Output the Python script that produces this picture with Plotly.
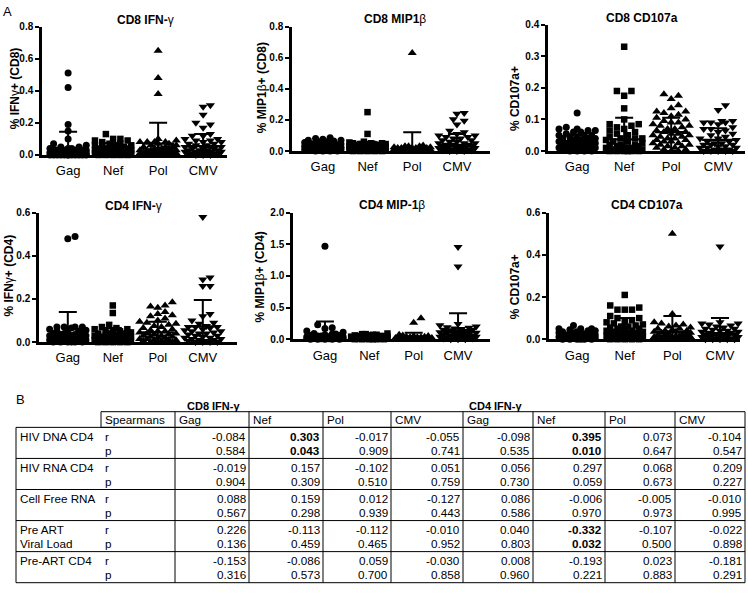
import numpy as np
import plotly.graph_objects as go

FONT = "Liberation Sans, Arial, Helvetica, sans-serif"
W, H = 748, 598

categories = ["Gag", "Nef", "Pol", "CMV"]

# ---------------- Panel A data ----------------
cd8_ifng_gag = [0.51, 0.42, 0.19, 0.15, 0.10, 0.07, 0.06, 0.05, 0.05, 0.04, 0.04, 0.04, 0.03, 0.03, 0.03,
                0.03, 0.02, 0.02, 0.02, 0.02, 0.02, 0.02, 0.015, 0.01, 0.01, 0.01, 0.01, 0.01, 0.01, 0.005,
                0.005, 0.005, 0.005, 0.0, 0.0, 0.0, 0.0, 0.0, 0.0, 0.0, 0.0, 0.0, 0.0, 0.0, 0.0]
cd8_ifng_nef = [0.13, 0.10, 0.10, 0.09, 0.09, 0.08, 0.07, 0.07, 0.06, 0.06, 0.05, 0.05, 0.05, 0.05, 0.04,
                0.04, 0.04, 0.04, 0.04, 0.03, 0.03, 0.03, 0.03, 0.03, 0.03, 0.02, 0.02, 0.02, 0.02, 0.02,
                0.02, 0.02, 0.01, 0.01, 0.01, 0.01, 0.01, 0.01, 0.005, 0.005, 0.0, 0.0, 0.0, 0.0, 0.0]
cd8_ifng_pol = [0.65, 0.48, 0.38, 0.10, 0.09, 0.08, 0.08, 0.08, 0.08, 0.07, 0.07, 0.06, 0.06, 0.05, 0.05,
                0.05, 0.04, 0.04, 0.04, 0.04, 0.03, 0.03, 0.03, 0.03, 0.03, 0.02, 0.02, 0.02, 0.02, 0.02,
                0.02, 0.01, 0.01, 0.01, 0.01, 0.01, 0.01, 0.005, 0.005, 0.005, 0.0, 0.0, 0.0, 0.0, 0.0]
cd8_ifng_cmv = [0.31, 0.30, 0.25, 0.20, 0.19, 0.17, 0.13, 0.12, 0.12, 0.10, 0.10, 0.09, 0.09, 0.08, 0.08,
                0.07, 0.07, 0.06, 0.06, 0.05, 0.05, 0.05, 0.04, 0.04, 0.04, 0.03, 0.03, 0.03, 0.03, 0.02,
                0.02, 0.02, 0.02, 0.02, 0.01, 0.01, 0.01, 0.01, 0.005, 0.005, 0.0, 0.0, 0.0]
cd8_ifng_mean = [0.045, 0.045, 0.07, 0.055]
cd8_ifng_upper = [0.145, 0.075, 0.20, 0.13]

cd8_mip_gag = [0.085, 0.08, 0.075, 0.07, 0.07, 0.065, 0.06, 0.06, 0.055, 0.05, 0.05, 0.05, 0.045, 0.045,
               0.04, 0.04, 0.04, 0.035, 0.035, 0.03, 0.03, 0.03, 0.03, 0.025, 0.025, 0.025, 0.02, 0.02,
               0.02, 0.02, 0.015, 0.015, 0.015, 0.01, 0.01, 0.01, 0.01, 0.005, 0.005, 0.005, 0.0, 0.0, 0.0, 0.0]
cd8_mip_nef = [0.25, 0.11, 0.06, 0.055, 0.05, 0.05, 0.05, 0.045, 0.045, 0.04, 0.04, 0.04, 0.035, 0.035,
               0.03, 0.03, 0.03, 0.03, 0.025, 0.025, 0.02, 0.02, 0.02, 0.02, 0.02, 0.015, 0.015, 0.015,
               0.01, 0.01, 0.01, 0.01, 0.01, 0.005, 0.005, 0.005, 0.005, 0.0, 0.0, 0.0, 0.0, 0.0]
cd8_mip_pol = [0.63, 0.035, 0.03, 0.03, 0.03, 0.025, 0.025, 0.02, 0.02, 0.02, 0.02, 0.02, 0.015, 0.015,
               0.015, 0.015, 0.01, 0.01, 0.01, 0.01, 0.01, 0.01, 0.01, 0.005, 0.005, 0.005, 0.005, 0.005,
               0.005, 0.0, 0.0, 0.0, 0.0, 0.0, 0.0, 0.0, 0.0, 0.0, 0.0, 0.0]
cd8_mip_cmv = [0.245, 0.24, 0.205, 0.195, 0.17, 0.13, 0.12, 0.11, 0.10, 0.10, 0.09, 0.09, 0.08, 0.08,
               0.07, 0.07, 0.06, 0.06, 0.05, 0.05, 0.05, 0.04, 0.04, 0.04, 0.03, 0.03, 0.03, 0.03, 0.02,
               0.02, 0.02, 0.02, 0.015, 0.01, 0.01, 0.01, 0.005, 0.005, 0.0, 0.0, 0.0]
cd8_mip_mean = [0.03, 0.03, 0.015, 0.04]
cd8_mip_upper = [0.05, 0.06, 0.12, 0.11]

cd8_cd107_gag = [0.12, 0.075, 0.07, 0.07, 0.065, 0.065, 0.06, 0.06, 0.055, 0.05, 0.05, 0.05, 0.045, 0.045,
                 0.04, 0.04, 0.04, 0.035, 0.035, 0.03, 0.03, 0.03, 0.03, 0.025, 0.025, 0.025, 0.02, 0.02,
                 0.02, 0.02, 0.015, 0.015, 0.015, 0.01, 0.01, 0.01, 0.01, 0.005, 0.005, 0.005, 0.005,
                 0.0, 0.0, 0.0, 0.0]
cd8_cd107_nef = [0.33, 0.19, 0.19, 0.175, 0.135, 0.10, 0.085, 0.085, 0.08, 0.075, 0.07, 0.065, 0.06, 0.055,
                 0.05, 0.045, 0.04, 0.04, 0.04, 0.035, 0.03, 0.03, 0.025, 0.02, 0.02, 0.02, 0.015, 0.015,
                 0.01, 0.01, 0.01, 0.01, 0.005, 0.005, 0.005, 0.005, 0.0, 0.0, 0.0, 0.0, 0.0, 0.0]
cd8_cd107_pol = [0.18, 0.175, 0.165, 0.145, 0.135, 0.125, 0.125, 0.12, 0.115, 0.11, 0.105, 0.10, 0.095,
                 0.09, 0.09, 0.085, 0.08, 0.08, 0.075, 0.07, 0.07, 0.065, 0.06, 0.06, 0.055, 0.055, 0.05,
                 0.05, 0.045, 0.045, 0.04, 0.04, 0.035, 0.035, 0.03, 0.03, 0.025, 0.025, 0.02, 0.02, 0.015,
                 0.015, 0.01, 0.01, 0.005, 0.005, 0.0, 0.0]
cd8_cd107_cmv = [0.145, 0.13, 0.095, 0.095, 0.09, 0.09, 0.09, 0.085, 0.075, 0.07, 0.07, 0.065, 0.06, 0.055,
                 0.05, 0.045, 0.04, 0.04, 0.035, 0.03, 0.03, 0.025, 0.025, 0.02, 0.02, 0.02, 0.015, 0.015,
                 0.01, 0.01, 0.01, 0.005, 0.005, 0.005, 0.0, 0.0, 0.0, 0.0, 0.0]
cd8_cd107_mean = [0.025, 0.037, 0.06, 0.035]
cd8_cd107_upper = [0.05, 0.105, 0.105, 0.072]

cd4_ifng_gag = [0.49, 0.48, 0.07, 0.07, 0.07, 0.07, 0.065, 0.06, 0.055, 0.05, 0.05, 0.045, 0.04, 0.04,
                0.04, 0.035, 0.035, 0.03, 0.03, 0.03, 0.025, 0.025, 0.02, 0.02, 0.02, 0.02, 0.015, 0.015,
                0.01, 0.01, 0.01, 0.01, 0.005, 0.005, 0.005, 0.0, 0.0, 0.0, 0.0, 0.0, 0.0]
cd4_ifng_nef = [0.17, 0.135, 0.08, 0.07, 0.065, 0.06, 0.06, 0.055, 0.05, 0.05, 0.045, 0.04, 0.04, 0.04,
                0.035, 0.035, 0.03, 0.03, 0.03, 0.025, 0.025, 0.025, 0.02, 0.02, 0.02, 0.02, 0.015, 0.015,
                0.015, 0.01, 0.01, 0.01, 0.01, 0.005, 0.005, 0.005, 0.0, 0.0, 0.0, 0.0, 0.0]
cd4_ifng_pol = [0.185, 0.17, 0.165, 0.16, 0.14, 0.13, 0.125, 0.12, 0.11, 0.10, 0.095, 0.09, 0.085, 0.08,
                0.075, 0.07, 0.065, 0.06, 0.055, 0.05, 0.05, 0.045, 0.04, 0.04, 0.035, 0.035, 0.03, 0.03,
                0.025, 0.025, 0.02, 0.02, 0.015, 0.015, 0.01, 0.01, 0.01, 0.005, 0.005, 0.0, 0.0, 0.0, 0.0]
cd4_ifng_cmv = [0.58, 0.30, 0.29, 0.26, 0.26, 0.13, 0.12, 0.10, 0.09, 0.085, 0.075, 0.07, 0.07, 0.07,
                0.065, 0.06, 0.055, 0.05, 0.05, 0.045, 0.04, 0.04, 0.035, 0.03, 0.03, 0.025, 0.02, 0.02,
                0.015, 0.015, 0.01, 0.01, 0.005, 0.005, 0.0, 0.0, 0.0, 0.0]
cd4_ifng_mean = [0.04, 0.027, 0.045, 0.073]
cd4_ifng_upper = [0.14, 0.065, 0.095, 0.195]

cd4_mip_gag = [1.47, 0.23, 0.18, 0.17, 0.13, 0.11, 0.09, 0.08, 0.08, 0.07, 0.06, 0.06, 0.05, 0.05, 0.04,
               0.04, 0.04, 0.03, 0.03, 0.03, 0.03, 0.02, 0.02, 0.02, 0.02, 0.02, 0.01, 0.01, 0.01, 0.01,
               0.01, 0.01, 0.005, 0.005, 0.0, 0.0, 0.0, 0.0, 0.0]
cd4_mip_nef = [0.09, 0.08, 0.08, 0.07, 0.07, 0.06, 0.06, 0.05, 0.05, 0.05, 0.04, 0.04, 0.04, 0.03, 0.03,
               0.03, 0.03, 0.02, 0.02, 0.02, 0.02, 0.02, 0.01, 0.01, 0.01, 0.01, 0.01, 0.01, 0.005, 0.005,
               0.005, 0.0, 0.0, 0.0, 0.0, 0.0, 0.0]
cd4_mip_pol = [0.33, 0.26, 0.07, 0.06, 0.05, 0.05, 0.04, 0.04, 0.03, 0.03, 0.03, 0.02, 0.02, 0.02, 0.02,
               0.02, 0.01, 0.01, 0.01, 0.01, 0.01, 0.01, 0.005, 0.005, 0.005, 0.005, 0.0, 0.0, 0.0, 0.0,
               0.0, 0.0, 0.0, 0.0]
cd4_mip_cmv = [1.46, 1.15, 0.24, 0.22, 0.20, 0.19, 0.18, 0.17, 0.16, 0.15, 0.15, 0.14, 0.13, 0.12, 0.11,
               0.10, 0.10, 0.09, 0.08, 0.08, 0.07, 0.06, 0.06, 0.05, 0.05, 0.04, 0.04, 0.03, 0.03, 0.02,
               0.02, 0.01, 0.01, 0.0, 0.0, 0.0]
cd4_mip_mean = [0.05, 0.03, 0.04, 0.13]
cd4_mip_upper = [0.28, 0.06, 0.10, 0.41]

cd4_cd107_gag = [0.065, 0.05, 0.05, 0.05, 0.045, 0.04, 0.04, 0.035, 0.035, 0.03, 0.03, 0.03, 0.025, 0.025,
                 0.025, 0.02, 0.02, 0.02, 0.02, 0.015, 0.015, 0.015, 0.01, 0.01, 0.01, 0.01, 0.01, 0.005,
                 0.005, 0.005, 0.005, 0.0, 0.0, 0.0, 0.0, 0.0, 0.0]
cd4_cd107_nef = [0.21, 0.16, 0.15, 0.14, 0.14, 0.14, 0.11, 0.10, 0.10, 0.09, 0.085, 0.08, 0.075, 0.07,
                 0.065, 0.06, 0.06, 0.055, 0.05, 0.05, 0.045, 0.04, 0.04, 0.035, 0.035, 0.03, 0.03, 0.025,
                 0.025, 0.02, 0.02, 0.02, 0.015, 0.015, 0.01, 0.01, 0.01, 0.005, 0.005, 0.0, 0.0, 0.0, 0.0, 0.0]
cd4_cd107_pol = [0.50, 0.12, 0.08, 0.075, 0.07, 0.065, 0.06, 0.055, 0.05, 0.05, 0.045, 0.04, 0.04, 0.035,
                 0.035, 0.03, 0.03, 0.025, 0.025, 0.02, 0.02, 0.02, 0.015, 0.015, 0.01, 0.01, 0.01, 0.005,
                 0.005, 0.005, 0.0, 0.0, 0.0, 0.0, 0.0, 0.0]
cd4_cd107_cmv = [0.44, 0.08, 0.075, 0.075, 0.07, 0.065, 0.06, 0.055, 0.05, 0.05, 0.045, 0.04, 0.04, 0.035,
                 0.035, 0.03, 0.03, 0.025, 0.025, 0.02, 0.02, 0.02, 0.015, 0.015, 0.01, 0.01, 0.01, 0.005,
                 0.005, 0.005, 0.0, 0.0, 0.0, 0.0, 0.0]
cd4_cd107_mean = [0.018, 0.04, 0.035, 0.028]
cd4_cd107_upper = [0.035, 0.10, 0.11, 0.10]

panel_titles = ["<b>CD8 IFN-</b>γ", "<b>CD8 MIP1</b>β", "<b>CD8 CD107a</b>",
                "<b>CD4 IFN-</b>γ", "<b>CD4 MIP-1</b>β", "<b>CD4 CD107a</b>"]
y_titles = ["<b>% IFN</b>γ<b>+ (CD8)</b>", "<b>% MIP1</b>β<b>+ (CD8)</b>", "<b>% CD107a+</b>",
            "<b>% IFN</b>γ<b>+ (CD4)</b>", "<b>% MIP1</b>β<b>+ (CD4)</b>", "<b>% CD107a+</b>"]

# ---------------- Panel B data ----------------
table_groups = ["CD8 IFN-γ", "CD4 IFN-γ"]
table_cols = ["Gag", "Nef", "Pol", "CMV", "Gag", "Nef", "Pol", "CMV"]
row_labels = [["HIV DNA CD4", ""], ["HIV RNA CD4", ""], ["Cell Free RNA", ""],
              ["Pre ART", "Viral Load"], ["Pre-ART CD4", ""]]
r_values = [
    [-0.084, 0.303, -0.017, -0.055, -0.098, 0.395, 0.073, -0.104],
    [-0.019, 0.157, -0.102, 0.051, 0.056, 0.297, 0.068, 0.209],
    [0.088, 0.159, 0.012, -0.127, 0.086, -0.006, -0.005, -0.010],
    [0.226, -0.113, -0.112, -0.010, 0.040, -0.332, -0.107, -0.022],
    [-0.153, -0.086, 0.059, -0.030, 0.008, -0.193, 0.023, -0.181],
]
p_values = [
    [0.584, 0.043, 0.909, 0.741, 0.535, 0.010, 0.647, 0.547],
    [0.904, 0.309, 0.510, 0.759, 0.730, 0.059, 0.673, 0.227],
    [0.567, 0.298, 0.939, 0.443, 0.586, 0.970, 0.973, 0.995],
    [0.136, 0.459, 0.465, 0.952, 0.803, 0.032, 0.500, 0.898],
    [0.316, 0.573, 0.700, 0.858, 0.960, 0.221, 0.883, 0.291],
]

# ---------------- layout constants ----------------
panels = [
    dict(vals=[cd8_ifng_gag, cd8_ifng_nef, cd8_ifng_pol, cd8_ifng_cmv], mean=cd8_ifng_mean, upper=cd8_ifng_upper,
         ymax=0.8, dtick=0.2, box=(42, 227, 21, 152), xr=(-0.58, 3.53), tpos=(145, 14), ytpos=(15, 84)),
    dict(vals=[cd8_mip_gag, cd8_mip_nef, cd8_mip_pol, cd8_mip_cmv], mean=cd8_mip_mean, upper=cd8_mip_upper,
         ymax=0.8, dtick=0.2, box=(292, 490, 21, 148), xr=(-0.69, 3.74), tpos=(395, 13), ytpos=(262, 84)),
    dict(vals=[cd8_cd107_gag, cd8_cd107_nef, cd8_cd107_pol, cd8_cd107_cmv], mean=cd8_cd107_mean,
         upper=cd8_cd107_upper, ymax=0.4, dtick=0.1, box=(548, 745, 19, 148), xr=(-0.62, 3.57),
         tpos=(642, 12), ytpos=(515, 95)),
    dict(vals=[cd4_ifng_gag, cd4_ifng_nef, cd4_ifng_pol, cd4_ifng_cmv], mean=cd4_ifng_mean, upper=cd4_ifng_upper,
         ymax=0.6, dtick=0.2, box=(39, 237, 211, 343), xr=(-0.64, 3.76), tpos=(133, 204), ytpos=(9, 275)),
    dict(vals=[cd4_mip_gag, cd4_mip_nef, cd4_mip_pol, cd4_mip_cmv], mean=cd4_mip_mean, upper=cd4_mip_upper,
         ymax=2.0, dtick=0.5, box=(293, 490, 211, 340), xr=(-0.72, 3.72), tpos=(392, 203), ytpos=(260, 277)),
    dict(vals=[cd4_cd107_gag, cd4_cd107_nef, cd4_cd107_pol, cd4_cd107_cmv], mean=cd4_cd107_mean,
         upper=cd4_cd107_upper, ymax=0.6, dtick=0.2, box=(549, 740, 211, 340), xr=(-0.59, 3.42),
         tpos=(647, 203), ytpos=(515, 287)),
]
symbols = ["circle", "square", "triangle-up", "triangle-down"]
msizes = [7, 6.5, 8, 8]


def swarm(vals, px_per_y, d=6.6, maxw=20.0):
    """Deterministic beeswarm offsets (in px) for a list of values."""
    vals = np.asarray(vals, dtype=float)
    order = np.argsort(vals, kind="stable")
    step = d * 0.55
    cands = [0.0]
    n = 1
    while n * step <= maxw:
        cands += [n * step, -n * step]
        n += 1
    placed = []
    xs = np.zeros(len(vals))
    for i in order:
        y = vals[i] * px_per_y
        chosen, best_c, best_s = None, 0.0, -1.0
        for c in cands:
            md = min((np.hypot(c - px, y - py) for px, py in placed), default=99.0)
            if md >= d * 0.95:
                chosen = c
                break
            if md > best_s:
                best_s, best_c = md, c
        if chosen is None:
            chosen = best_c
        xs[i] = chosen
        placed.append((chosen, y))
    return xs


def px2fx(p):
    return p / W


def px2fy(p):
    return 1 - p / H


fig = go.Figure()
annotations = []

for k, pn in enumerate(panels):
    ax = "" if k == 0 else str(k + 1)
    x0, x1, yt, yb = pn["box"]
    px_per_y = (yb - yt) / pn["ymax"]
    px_per_x = (x1 - x0) / (pn["xr"][1] - pn["xr"][0])
    for ci, vals in enumerate(pn["vals"]):
        off = swarm(vals, px_per_y)
        fig.add_trace(go.Scatter(
            x=ci + off / px_per_x, y=vals, mode="markers", xaxis="x" + ax, yaxis="y" + ax,
            marker=dict(symbol=symbols[ci], size=msizes[ci], color="black", line=dict(width=0)),
            cliponaxis=False, showlegend=False, hoverinfo="y"))
    mean = np.array(pn["mean"])
    upper = np.array(pn["upper"])
    fig.add_trace(go.Scatter(
        x=list(range(4)), y=mean, mode="markers", xaxis="x" + ax, yaxis="y" + ax,
        marker=dict(symbol="line-ew", size=23, color="black", line=dict(width=2.2, color="black")),
        error_y=dict(type="data", array=upper - mean, arrayminus=mean, width=9, thickness=2, color="black"),
        cliponaxis=False, showlegend=False, hoverinfo="skip"))
    fig.update_layout(**{
        "xaxis" + ax: dict(domain=[px2fx(x0), px2fx(x1)], range=list(pn["xr"]), anchor="y" + ax,
                           tickvals=list(range(4)), ticktext=categories, showline=True, linewidth=2.5,
                           linecolor="black", ticks="outside", ticklen=2, tickcolor="rgba(0,0,0,0)",
                           tickfont=dict(family=FONT, size=13, color="black"), showgrid=False,
                           zeroline=False, fixedrange=True),
        "yaxis" + ax: dict(domain=[px2fy(yb), px2fy(yt)], range=[0, pn["ymax"]], anchor="x" + ax,
                           dtick=pn["dtick"], tick0=0, tickformat=".1f", showline=True, linewidth=2.5,
                           linecolor="black", ticks="outside", ticklen=4, tickwidth=2, tickcolor="black",
                           tickfont=dict(family=FONT, size=10, color="black", weight="bold"),
                           showgrid=False, zeroline=False, fixedrange=True),
    })
    annotations.append(dict(x=px2fx(pn["tpos"][0]), y=px2fy(pn["tpos"][1]), xref="paper", yref="paper",
                            text=panel_titles[k], showarrow=False, xanchor="center", yanchor="middle",
                            font=dict(family=FONT, size=12, color="black")))
    annotations.append(dict(x=px2fx(pn["ytpos"][0]), y=px2fy(pn["ytpos"][1]), xref="paper", yref="paper",
                            text=y_titles[k], showarrow=False, textangle=-90, xanchor="center",
                            yanchor="middle", font=dict(family=FONT, size=12, color="black")))

annotations.append(dict(x=px2fx(8), y=px2fy(6), xref="paper", yref="paper", text="A", showarrow=False,
                        xanchor="center", yanchor="middle", font=dict(family=FONT, size=13, color="black")))
annotations.append(dict(x=px2fx(20), y=px2fy(402), xref="paper", yref="paper", text="B", showarrow=False,
                        xanchor="center", yanchor="middle", font=dict(family=FONT, size=13, color="black")))

# ---------------- Table (panel B) on an invisible pixel-scaled axis pair ----------------
TX, TY = "x7", "y7"
tbl_left, hdr_left = 16, 101
col_edges = [175, 249, 323, 391, 463, 533, 605, 675, 745]
hdr_top, body_top, grp_h = 414, 430, 31.7
r_off, p_off = 9.5, 23.5
grp_title_x = [213, 495]
fig.update_layout(
    xaxis7=dict(domain=[0, 1], range=[0, W], visible=False, fixedrange=True, anchor="y7"),
    yaxis7=dict(domain=[0, px2fy(395)], range=[H, 395], visible=False, fixedrange=True, anchor="x7"),
)
fig.add_trace(go.Scatter(x=[0], y=[H], xaxis=TX, yaxis=TY, mode="markers", marker=dict(opacity=0),
                         showlegend=False, hoverinfo="skip"))

shapes = []
LN = dict(color="black", width=1)
n_groups = len(row_labels)
body_bot = body_top + n_groups * grp_h
shapes.append(dict(type="rect", xref=TX, yref=TY, x0=hdr_left, x1=col_edges[-1], y0=hdr_top, y1=body_top, line=LN))
for e in col_edges[:-1]:
    shapes.append(dict(type="line", xref=TX, yref=TY, x0=e, x1=e, y0=hdr_top, y1=body_top, line=LN))
shapes.append(dict(type="rect", xref=TX, yref=TY, x0=tbl_left, x1=col_edges[-1], y0=body_top, y1=body_bot, line=LN))
for e in col_edges[:-1]:
    shapes.append(dict(type="line", xref=TX, yref=TY, x0=e, x1=e, y0=body_top, y1=body_bot, line=LN))
for g in range(1, n_groups):
    yy = body_top + g * grp_h
    shapes.append(dict(type="line", xref=TX, yref=TY, x0=tbl_left, x1=col_edges[-1], y0=yy, y1=yy, line=LN))

TF = dict(family=FONT, size=11.7, color="black")
for gx, gt in zip(grp_title_x, table_groups):
    annotations.append(dict(x=gx, y=408, xref=TX, yref=TY, text="<b>" + gt + "</b>", showarrow=False,
                            xanchor="center", yanchor="middle", font=dict(family=FONT, size=11, color="black")))
hdr_y = (hdr_top + body_top) / 2
annotations.append(dict(x=hdr_left + 2, y=hdr_y, xref=TX, yref=TY, text="Spearmans", showarrow=False,
                        xanchor="left", yanchor="middle", font=TF))
for j, c in enumerate(table_cols):
    annotations.append(dict(x=col_edges[j] + 2, y=hdr_y, xref=TX, yref=TY, text=c, showarrow=False,
                            xanchor="left", yanchor="middle", font=TF))
for g in range(n_groups):
    top = body_top + g * grp_h
    for li, (lab, stat, vals) in enumerate(zip(row_labels[g], ["r", "p"], [r_values[g], p_values[g]])):
        yy = top + (r_off if li == 0 else p_off)
        if lab:
            annotations.append(dict(x=tbl_left + 2, y=yy, xref=TX, yref=TY, text=lab, showarrow=False,
                                    xanchor="left", yanchor="middle", font=TF))
        annotations.append(dict(x=hdr_left + 2, y=yy, xref=TX, yref=TY, text=stat, showarrow=False,
                                xanchor="left", yanchor="middle", font=TF))
        for j, v in enumerate(vals):
            s = "{:.3f}".format(v)
            if p_values[g][j] < 0.05:
                s = "<b>" + s + "</b>"
            annotations.append(dict(x=col_edges[j + 1] - 1, y=yy, xref=TX, yref=TY, text=s, showarrow=False,
                                    xanchor="right", yanchor="middle", font=TF))

fig.update_layout(width=W, height=H, margin=dict(l=0, r=0, t=0, b=0), plot_bgcolor="white",
                  paper_bgcolor="white", shapes=shapes, annotations=annotations, showlegend=False,
                  font=dict(family=FONT, color="black"))
fig.write_html("out.html", config={"displayModeBar": False},
               post_script="document.body.style.margin='0';document.body.style.padding='0';")
